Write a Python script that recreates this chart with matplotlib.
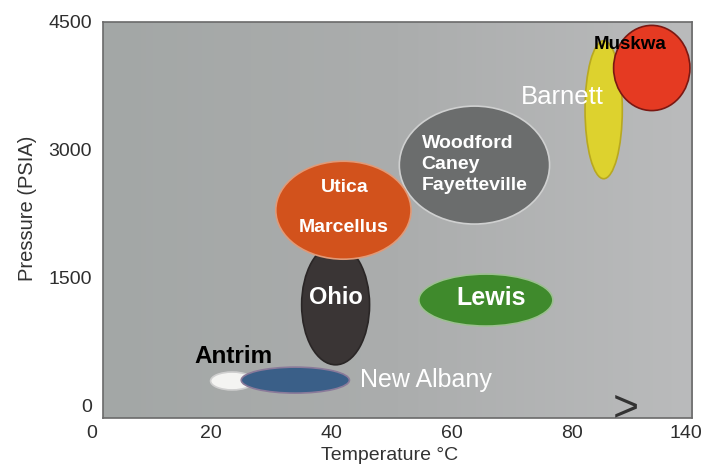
import numpy as np
import matplotlib.pyplot as plt
from matplotlib.colors import LinearSegmentedColormap
from matplotlib.patches import Ellipse
from matplotlib.transforms import blended_transform_factory

plt.rcParams['font.family'] = ['Liberation Sans', 'DejaVu Sans']

# 页岩区块：中心温度(°C)、中心压力(PSIA)、宽、高
names = ['Barnett', 'Muskwa', 'Woodford', 'Ohio', 'Utica', 'Lewis', 'Antrim', 'New Albany']
temp_c = [85.3, 93.3, 63.8, 40.7, 42.0, 65.7, 23.5, 34.0]
press_c = [3470, 3960, 2820, 1180, 2290, 1235, 285, 295]
temp_w = [6.2, 12.7, 25.0, 11.3, 22.5, 22.3, 7.2, 18.0]
press_h = [1620, 1000, 1385, 1410, 1150, 610, 210, 305]
face = ['#ddd22e', '#e53a22', '#6b6d6d', '#3a3535', '#d2521c', '#3f8a2c', '#f4f4f2', '#3a5f88']
edge = ['#b8a820', '#7a1812', '#cfd0d0', '#2a2626', '#e09a78', '#9cc090', '#cfcfcf', '#8a7a9a']

xticks = [20, 40, 60, 80, 99]
xlabels = ['20', '40', '60', '80', '140']
yticks = [0, 1500, 3000, 4500]

fig = plt.figure(figsize=(7.04, 4.65), dpi=100)
ax = fig.add_axes([0.1463, 0.101, 0.8367, 0.8517])
ax.set_xlim(2, 100)
ax.set_ylim(-150, 4500)

# 灰色渐变背景
grad = np.linspace(0, 1, 256).reshape(1, -1)
bg = LinearSegmentedColormap.from_list('bg', ['#a3a7a6', '#abadad', '#babbbc'])
ax.imshow(grad, extent=[2, 100, -150, 4500], aspect='auto', cmap=bg, zorder=0)

for i in range(len(names)):
    e = Ellipse((temp_c[i], press_c[i]), temp_w[i], press_h[i], facecolor=face[i],
                edgecolor=edge[i], linewidth=1.2, zorder=2 + i)
    ax.add_patch(e)

# 标签
ax.text(89.7, 4230, 'Muskwa', color='black', fontsize=13.5, fontweight='bold', ha='center', va='center', zorder=20)
ax.text(78.5, 3620, 'Barnett', color='white', fontsize=18.5, ha='center', va='center', zorder=20)
ax.text(55.0, 2830, 'Woodford\nCaney\nFayetteville', color='white', fontsize=14, fontweight='bold',
        ha='left', va='center', linespacing=1.3, zorder=20)
ax.text(42.3, 2560, 'Utica', color='white', fontsize=14, fontweight='bold', ha='center', va='center', zorder=20)
ax.text(42.0, 2090, 'Marcellus', color='white', fontsize=14, fontweight='bold', ha='center', va='center', zorder=20)
ax.text(40.7, 1270, 'Ohio', color='white', fontsize=17, fontweight='bold', ha='center', va='center', zorder=20)
ax.text(66.5, 1260, 'Lewis', color='white', fontsize=18, fontweight='bold', ha='center', va='center', zorder=20)
ax.text(23.7, 570, 'Antrim', color='black', fontsize=17.5, fontweight='bold', ha='center', va='center', zorder=20)
ax.text(55.7, 300, 'New Albany', color='white', fontsize=18, ha='center', va='center', zorder=20)

# 断轴符号
ax.text(89, -40, '>', fontsize=32, color='#333333', ha='center', va='center', clip_on=False, zorder=20)

ax.set_xticks(xticks)
ax.set_xticklabels(xlabels)
ax.set_yticks(yticks)
ax.tick_params(length=0, labelsize=14, labelcolor='#2e2e2e')
ax.tick_params(axis='y', pad=8)
ax.tick_params(axis='x', pad=5)
trans = blended_transform_factory(ax.transData, ax.transAxes)
ax.text(0.2, -0.018, '0', transform=trans, fontsize=14, color='#2e2e2e', ha='center', va='top', clip_on=False)

for s in ax.spines.values():
    s.set_color('#6a6a6a')
    s.set_linewidth(1.2)

ax.set_xlabel('Temperature °C', fontsize=14, color='#333333')
ax.set_ylabel('Pressure (PSIA)', fontsize=14.5, color='#333333')
ax.xaxis.set_label_coords(0.487, -0.072)
ax.yaxis.set_label_coords(-0.112, 0.53)

fig.savefig('out.png', dpi=100)
